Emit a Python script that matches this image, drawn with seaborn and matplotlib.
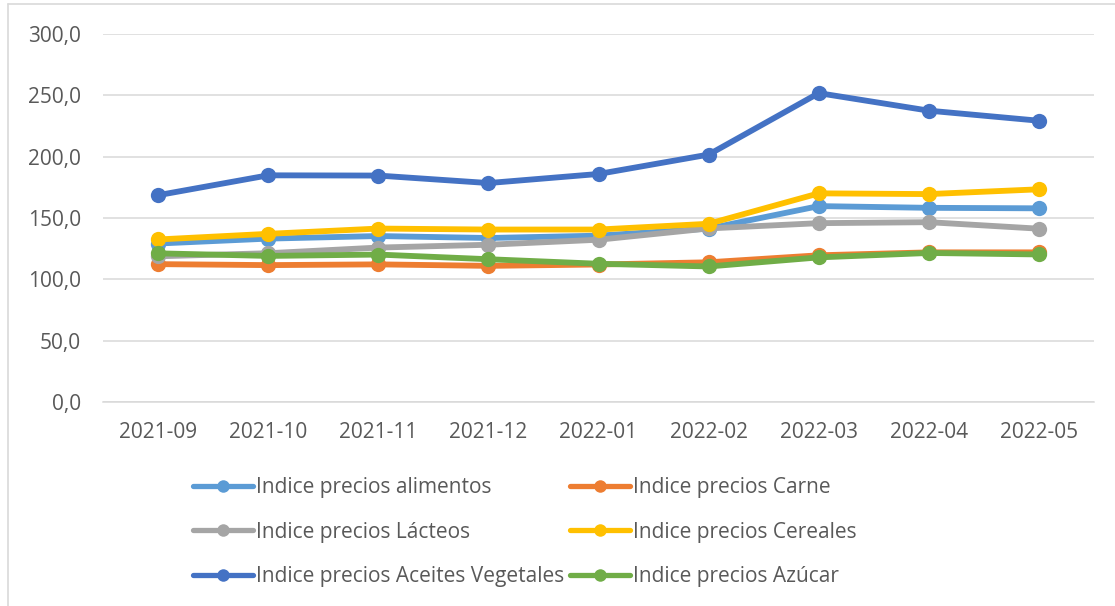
import pandas as pd
import matplotlib.pyplot as plt
import seaborn as sns
from matplotlib.lines import Line2D
from matplotlib.ticker import FixedLocator, FuncFormatter

# datos: indices de precios FAO
meses = ['2021-09', '2021-10', '2021-11', '2021-12', '2022-01',
         '2022-02', '2022-03', '2022-04', '2022-05']
alimentos = [129.2, 133.2, 135.3, 133.7, 135.6, 141.4, 159.7, 158.3, 157.9]
carne = [112.4, 111.6, 112.2, 111.0, 112.1, 113.9, 119.6, 122.0, 122.0]
lacteos = [118.8, 121.3, 125.9, 128.2, 132.3, 141.5, 145.8, 146.6, 141.3]
cereales = [132.5, 137.1, 141.4, 140.6, 140.6, 145.3, 170.1, 169.5, 173.4]
aceites = [168.6, 184.8, 184.6, 178.5, 185.9, 201.7, 251.8, 237.5, 229.3]
azucar = [121.2, 119.1, 120.2, 116.4, 112.7, 110.5, 117.9, 121.5, 120.3]

series = ['Indice precios alimentos', 'Indice precios Carne', 'Indice precios Lácteos',
          'Indice precios Cereales', 'Indice precios Aceites Vegetales', 'Indice precios Azúcar']
valores = [alimentos, carne, lacteos, cereales, aceites, azucar]
colores = ['#5B9BD5', '#ED7D31', '#A5A5A5', '#FFC000', '#4472C4', '#70AD47']

df = pd.DataFrame([(s, m, v) for s, vals in zip(series, valores) for m, v in zip(meses, vals)],
                  columns=['serie', 'mes', 'valor'])

sns.set_style('white')
plt.rcParams['font.family'] = ['Open Sans', 'DejaVu Sans']

fig = plt.figure(figsize=(11.15, 6.06), dpi=100)
ax = fig.add_axes([0.0924, 0.3366, 0.8888, 0.6073])

sns.lineplot(data=df, x='mes', y='valor', hue='serie', hue_order=series,
             palette=colores, marker='o', markersize=11, markeredgewidth=0,
             linewidth=4.2, sort=False, ax=ax, legend=True)

ax.set_ylim(0, 300)
ax.set_xlim(-0.5, len(meses) - 0.5)
ax.set_yticks(range(0, 301, 50))
ax.yaxis.set_major_formatter(FuncFormatter(lambda v, p: f'{v:.1f}'.replace('.', ',')))
ax.grid(axis='y', color='#D9D9D9', linewidth=1.1)
ax.set_axisbelow(True)
ax.set_xlabel('')
ax.set_ylabel('')
for s in ['top', 'right', 'left']:
    ax.spines[s].set_visible(False)
ax.spines['bottom'].set_color('#D9D9D9')
ax.spines['bottom'].set_linewidth(1.1)
ax.xaxis.set_minor_locator(FixedLocator([i - 0.5 for i in range(len(meses) + 1)]))
ax.tick_params(axis='x', which='major', length=0, pad=14.5, labelsize=15, colors='#595959')
ax.tick_params(axis='x', which='minor', length=7, width=1.1, color='#D9D9D9', direction='out')
ax.tick_params(axis='y', length=0, pad=16, labelsize=15, colors='#595959')

handles, labels = ax.get_legend_handles_labels()
ax.get_legend().remove()
orden = [0, 2, 4, 1, 3, 5]
leg = fig.legend([handles[i] for i in orden], [labels[i] for i in orden],
                 ncol=2, loc='upper left', bbox_to_anchor=(0.173, 0.2129),
                 frameon=False, fontsize=15, labelcolor='#595959',
                 handlelength=2.88, handletextpad=0.15, columnspacing=0.29,
                 labelspacing=1.14, borderpad=0, borderaxespad=0)
for h in leg.legend_handles:
    h.set_markersize(9)
    h.set_linewidth(3.8)

# borde del area del grafico
fig.add_artist(Line2D([0.0076, 0.0076], [0, 0.9934], color='#D9D9D9', linewidth=1.2))
fig.add_artist(Line2D([0.0076, 1.0], [0.9934, 0.9934], color='#D9D9D9', linewidth=1.2))

fig.savefig('out.png', dpi=100)
